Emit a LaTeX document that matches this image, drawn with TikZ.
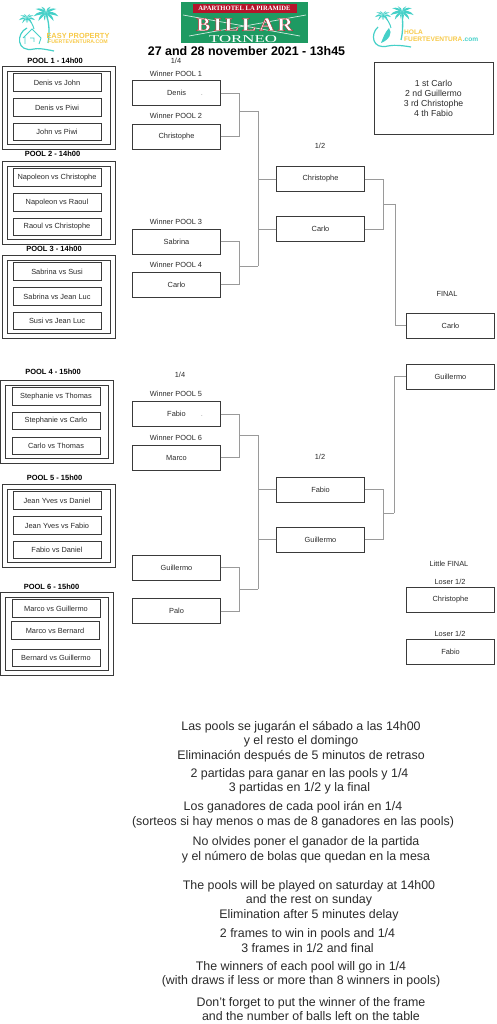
\documentclass[tikz,border=0pt]{standalone}
\usepackage{fontspec}
\setmainfont{Liberation Sans}
\newfontfamily\logoserif{Liberation Serif}
\usetikzlibrary{positioning, calc}
\definecolor{logoteal}{HTML}{45D0C8}
\definecolor{logoyellow}{HTML}{F7C948}
\definecolor{feltgreen}{HTML}{1E9A62}
\definecolor{bannerred}{HTML}{B5142A}
\definecolor{edgegray}{HTML}{3A3A3A}
\definecolor{linkgray}{HTML}{9A9A9A}
\definecolor{inkgray}{HTML}{2A2A2A}
\tikzset{
  smalltext/.style={font=\fontsize{7.4}{9}\selectfont, text=inkgray, inner sep=0pt},
  outerbox/.style={draw=edgegray, line width=0.8pt, minimum width=113pt, minimum height=83pt},
  innerbox/.style={draw=edgegray, line width=0.8pt, minimum width=103pt, minimum height=73pt},
  matchbox/.style={draw=edgegray, line width=0.8pt, minimum width=88pt, minimum height=17.5pt, smalltext},
  playerbox/.style={draw=edgegray, line width=0.8pt, minimum width=87.5pt, minimum height=25pt, smalltext},
  pooltitle/.style={font=\fontsize{7.5}{9}\bfseries\selectfont, inner sep=0pt},
  note/.style={font=\fontsize{12.4}{14.5}\selectfont, align=center, text=inkgray, inner sep=0pt},
  link/.style={draw=linkgray, line width=0.9pt},
  palm/.pic={
    \foreach \s in {1,-1} \foreach \a/\l in {-75/9,-40/13,-8/15,28/13,60/9} {
      \fill[logoteal, xscale=\s, rotate=\a] (0,0) .. controls (.3*\l,-.22*\l) and (.7*\l,-.2*\l) .. (\l,.12*\l) .. controls (.7*\l,.04*\l) and (.3*\l,.1*\l) .. (0,0);
    }
  }
}

\begin{document}
\begin{tikzpicture}[x=1pt, y=-1pt]
  \useasboundingbox (0,0) rectangle (496,1024);

  % easy property logo
  \pic[scale=.85] at (46,13) {palm};
  \pic[scale=.55] at (27,18) {palm};
  \draw[logoteal, line width=1.3pt] (46,13) .. controls (49,22) and (50,32) .. (48,43);
  \draw[logoteal, line width=1pt] (27,18) .. controls (31,21) and (33,25) .. (34,29);
  \draw[logoteal, line width=1.2pt] (27,28) .. controls (16,33) and (16,53) .. (34,49) .. controls (38,48) and (44,49) .. (54,51);
  \draw[logoteal, line width=.8pt] (23,38) -- (32,29) -- (41,38) -- (39,44) (25,37) -- (25,44) (30,38) -- (34,38) -- (34,42);
  \node[font=\fontsize{7.4}{8}\bfseries\selectfont, text=logoyellow, inner sep=0pt] (easyname) at (78,35.5) {EASY PROPERTY};
  \node[font=\fontsize{5.2}{6}\bfseries\selectfont, text=logoyellow, inner sep=0pt] (easyplace) at (78,41.5) {FUERTEVENTURA.COM};

  % billar logo
  \fill[feltgreen] (181,2) rectangle (308,43);
  \draw[white!80!feltgreen, line width=.7pt] (183,15) -- (300,36) (306,15) -- (189,36);
  \fill[bannerred] (193,4) rectangle (297,13);
  \node[font=\logoserif\fontsize{6.6}{7}\bfseries\selectfont, text=white, inner sep=0pt] (hotel) at (244.5,8.7) {APARTHOTEL LA PIRAMIDE};
  \node[font=\logoserif\fontsize{19}{20}\bfseries\selectfont, text=white, inner sep=0pt] (billar) at (244.5,24.5) {\addfontfeature{LetterSpace=14}\scalebox{1.12}[1]{\special{pdf:code 2 Tr 0.3 w 0.75 0.08 0.15 RG}BILLAR\special{pdf:code 0 Tr 0 G}}};
  \node[font=\logoserif\fontsize{10.5}{11}\selectfont, text=white, inner sep=0pt] (torneo) at (243,39) {\scalebox{1.6}[1]{TORNEO}};

  % hola logo
  \pic[scale=.8] at (402,12) {palm};
  \pic[scale=.55] at (383,15) {palm};
  \draw[logoteal, line width=1.3pt] (402,12) .. controls (403,22) and (403,32) .. (401,40);
  \draw[logoteal, line width=1pt] (383,15) .. controls (387,19) and (390,23) .. (391,28);
  \draw[logoteal, line width=1.2pt] (378,27) .. controls (370,34) and (372,50) .. (388,46) .. controls (392,45) and (400,45) .. (411,47);
  \fill[logoteal] (389,28) .. controls (393,33) and (389,40) .. (381,43) .. controls (383,38) and (385,32) .. (389,28);
  \node[font=\fontsize{6.6}{7}\bfseries\selectfont, text=logoyellow, inner sep=0pt, anchor=west] (holaname) at (404,32) {HOLA};
  \node[font=\fontsize{6.6}{7}\bfseries\selectfont, text=logoyellow, inner sep=0pt, anchor=west] (holaplace) at (404,39.5) {FUERTEVENTURA};
  \node[font=\fontsize{6.6}{7}\bfseries\selectfont, text=logoteal, inner sep=0pt, anchor=west] (holadot) at (holaplace.east) {.com};

  \node[font=\fontsize{12.45}{14}\bfseries\selectfont, inner sep=0pt] (headline) at (246.5,51) {27 and 28 november 2021 - 13h45};

  % pools
  \foreach \p/\x/\y/\tx/\ty/\when in {1/58.5/107.5/55/61/14h00, 2/58.5/202.5/52.5/154/14h00, 3/58.5/296.5/54/249/14h00, 4/57/421.5/53/372/15h00, 5/58.5/525.5/54.5/478/15h00, 6/57/633.5/51.5/587/15h00} {
    \node[outerbox] (pool\p) at (\x,\y) {};
    \node[innerbox] (inner\p) at (\x,\y) {};
    \node[pooltitle] (title\p) at (\tx,\ty) {POOL \p\ - \when};
  }
  \node[matchbox] (m11) at (57,82.5) {Denis vs John};
  \node[matchbox] (m12) at (57,107.5) {Denis vs Piwi};
  \node[matchbox] (m13) at (57,132) {John vs Piwi};
  \node[matchbox] (m21) at (57,177.5) {Napoleon vs Christophe};
  \node[matchbox] (m22) at (57,202.5) {Napoleon vs Raoul};
  \node[matchbox] (m23) at (57,227) {Raoul vs Christophe};
  \node[matchbox] (m31) at (57,271.5) {Sabrina vs Susi};
  \node[matchbox] (m32) at (57,296.5) {Sabrina vs Jean Luc};
  \node[matchbox] (m33) at (57,321) {Susi vs Jean Luc};
  \node[matchbox] (m41) at (56,396.5) {Stephanie vs Thomas};
  \node[matchbox] (m42) at (56,421) {Stephanie vs Carlo};
  \node[matchbox] (m43) at (56,446) {Carlo vs Thomas};
  \node[matchbox] (m51) at (57,500.5) {Jean Yves vs Daniel};
  \node[matchbox] (m52) at (57,525.5) {Jean Yves vs Fabio};
  \node[matchbox] (m53) at (57,550) {Fabio vs Daniel};
  \node[matchbox] (m61) at (56,608.5) {Marco vs Guillermo};
  \node[matchbox] (m62) at (55,630.5) {Marco vs Bernard};
  \node[matchbox] (m63) at (56,658) {Bernard vs Guillermo};

  % quarter finals
  \node[smalltext] (quarterA) at (176,61) {1/4};
  \node[smalltext] (quarterB) at (180,375) {1/4};
  \node[playerbox] (qf1) at (176.5,93) {Denis\rlap{\hspace{15pt}\textcolor{linkgray}{.}}};
  \node[playerbox] (qf2) at (176.5,136.5) {Christophe};
  \node[playerbox] (qf3) at (176.5,241.5) {Sabrina};
  \node[playerbox] (qf4) at (176.5,284.5) {Carlo};
  \node[playerbox] (qf5) at (176.5,414) {Fabio\rlap{\hspace{15pt}\textcolor{linkgray}{.}}};
  \node[playerbox] (qf6) at (176.5,457.5) {Marco};
  \node[playerbox] (qf7) at (176.5,567.5) {Guillermo};
  \node[playerbox] (qf8) at (176.5,611) {Palo};
  \node[smalltext] (win1) at (176,74) {Winner POOL 1};
  \node[smalltext] (win2) at (176,116) {Winner POOL 2};
  \node[smalltext] (win3) at (176,222) {Winner POOL 3};
  \node[smalltext] (win4) at (176,265) {Winner POOL 4};
  \node[smalltext] (win5) at (176,394) {Winner POOL 5};
  \node[smalltext] (win6) at (176,438) {Winner POOL 6};

  % semi finals
  \node[smalltext] (halfA) at (320,146) {1/2};
  \node[smalltext] (halfB) at (320,457) {1/2};
  \node[playerbox] (sf1) at (320.5,179) {Christophe};
  \node[playerbox] (sf2) at (320.5,229) {Carlo};
  \node[playerbox] (sf3) at (320.5,489.5) {Fabio};
  \node[playerbox] (sf4) at (320.5,539.5) {Guillermo};

  % finals
  \node[smalltext] (finalname) at (447,294) {FINAL};
  \node[playerbox] (fin1) at (450.5,325.5) {Carlo};
  \node[playerbox] (fin2) at (450.5,376.5) {Guillermo};
  \node[smalltext] (littlename) at (449,564) {Little FINAL};
  \node[smalltext] (loseA) at (450,582) {Loser 1/2};
  \node[smalltext] (loseB) at (450,634) {Loser 1/2};
  \node[playerbox] (lit1) at (450.5,599.5) {Christophe};
  \node[playerbox] (lit2) at (450.5,651.5) {Fabio};

  % results
  \node[draw=edgegray, line width=0.8pt, minimum width=119pt, minimum height=72pt, align=center, font=\fontsize{8.7}{10}\selectfont, text=inkgray, inner sep=0pt] (results) at (433.5,98) {1 st Carlo\\2 nd Guillermo\\3 rd Christophe\\4 th Fabio};

  % bracket links
  \coordinate (j1) at (239,111);
  \coordinate (j2) at (239,266);
  \coordinate (j3) at (239,435);
  \coordinate (j4) at (239,589);
  \coordinate (k1) at (258,111);
  \coordinate (k2) at (258,266);
  \coordinate (k3) at (258,435);
  \coordinate (k4) at (258,589);
  \coordinate (j5) at (383,204);
  \coordinate (j6) at (383,513);
  \coordinate (k5) at (395,204);
  \coordinate (k6) at (394,513);
  \draw[link] (qf1.east) -| (j1) (qf2.east) -| (j1) (j1) -- (k1);
  \draw[link] (qf3.east) -| (j2) (qf4.east) -| (j2) (j2) -- (k2);
  \draw[link] (qf5.east) -| (j3) (qf6.east) -| (j3) (j3) -- (k3);
  \draw[link] (qf7.east) -| (j4) (qf8.east) -| (j4) (j4) -- (k4);
  \draw[link] (k1) -- (k2) (k3) -- (k4);
  \draw[link] (sf1.west) -| (k1) (sf2.west) -| (k2);
  \draw[link] (sf3.west) -| (k3) (sf4.west) -| (k4);
  \draw[link] (sf1.east) -| (j5) (sf2.east) -| (j5) (j5) -- (k5);
  \draw[link] (sf3.east) -| (j6) (sf4.east) -| (j6) (j6) -- (k6);
  \draw[link] (k5) |- (fin1.west);
  \draw[link] (k6) |- (fin2.west);

  % rules
  \node[note] (esA) at (301,741.5) {Las pools se jugarán el sábado a las 14h00\\y el resto el domingo\\Eliminación después de 5 minutos de retraso};
  \node[note] (esB) at (299.5,781.5) {2 partidas para ganar en las pools y 1/4\\3 partidas en 1/2 y la final};
  \node[note] (esC) at (293,814.5) {Los ganadores de cada pool irán en 1/4\\(sorteos si hay menos o mas de 8 ganadores en las pools)};
  \node[note] (esD) at (306,850) {No olvides poner el ganador de la partida\\y el número de bolas que quedan en la mesa};
  \node[note] (enA) at (309,900.5) {The pools will be played on saturday at 14h00\\and the rest on sunday\\Elimination after 5 minutes delay};
  \node[note] (enB) at (307.5,940.5) {2 frames to win in pools and 1/4\\3 frames in 1/2 and final};
  \node[note] (enC) at (301,974.5) {The winners of each pool will go in 1/4\\(with draws if less or more than 8 winners in pools)};
  \node[note] (enD) at (311,1009) {Don't forget to put the winner of the frame\\and the number of balls left on the table};
\end{tikzpicture}
\end{document}
